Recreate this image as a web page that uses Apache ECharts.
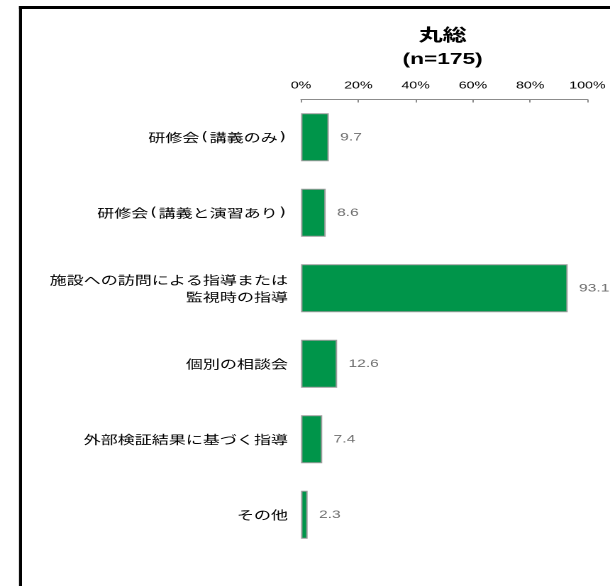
<!DOCTYPE html>
<html>
<head>
<meta charset="utf-8">
<title>丸総</title>
<script src="https://cdn.jsdelivr.net/npm/echarts@6/dist/echarts.min.js"></script>
<style>
  html, body { margin: 0; padding: 0; background: #fff; }
  #frame { width: 610px; height: 586px; overflow: hidden; position: relative; }
  /* chart is laid out narrower and widened horizontally, giving the wide-set lettering */
  #chart { width: 430px; height: 586px; transform: scaleX(1.4186); transform-origin: 0 0; }
</style>
</head>
<body>
<div id="frame"><div id="chart"></div></div>
<script>
// 指導方法別の割合（％）
const titleMain = '丸総';
const titleSub = '(n=175)';
const categories = [
  '研修会(講義のみ)',
  '研修会(講義と演習あり)',
  '施設への訪問による指導または\n監視時の指導',
  '個別の相談会',
  '外部検証結果に基づく指導',
  'その他'
];
const values = [9.7, 8.6, 93.1, 12.6, 7.4, 2.3];
const axisMin = 0;
const axisMax = 100;
const axisStep = 20;

const CJK = '"Noto Sans CJK JP", "Noto Sans", sans-serif';
const LATIN = '"Liberation Sans", Arial, sans-serif';

const chart = echarts.init(document.getElementById('chart'), null, { renderer: 'canvas', devicePixelRatio: 2 });

// parentheses in category names are set in a fixed-pitch face so they sit half-width
const wrapParens = (s) => s.replace(/\(/g, '{p|(}').replace(/\)/g, '{p|)}');

chart.setOption({
  animation: false,
  backgroundColor: '#ffffff',
  title: {
    text: '{a|' + titleMain + '}\n{b|' + titleSub + '}',
    left: 312,
    top: 22,
    padding: 0,
    textAlign: 'center',
    textStyle: {
      rich: {
        a: { fontFamily: CJK, fontSize: 17, fontWeight: 'bold', color: '#000', lineHeight: 25, align: 'center' },
        b: { fontFamily: LATIN, fontSize: 16, fontWeight: 'bold', color: '#000', lineHeight: 25, align: 'center' }
      }
    }
  },
  graphic: [
    { type: 'rect', shape: { x: 13.4, y: 6, width: 500, height: 3 }, style: { fill: '#000' }, silent: true },
    { type: 'rect', shape: { x: 13.4, y: 6, width: 2.1, height: 600 }, style: { fill: '#000' }, silent: true }
  ],
  grid: { left: 212.2, right: 15.9, top: 99.5, height: 453, containLabel: false },
  xAxis: {
    type: 'value',
    position: 'top',
    min: axisMin,
    max: axisMax,
    interval: axisStep,
    splitLine: { show: false },
    axisLine: { show: true, lineStyle: { color: '#8c8c8c', width: 1 } },
    axisTick: { show: true, inside: true, length: 3, lineStyle: { color: '#8c8c8c' } },
    axisLabel: {
      formatter: '{value}%',
      fontFamily: LATIN,
      fontSize: 10,
      color: '#000',
      margin: 9
    }
  },
  yAxis: {
    type: 'category',
    inverse: true,
    data: categories,
    axisLine: { show: false },
    axisTick: { show: false },
    axisLabel: {
      fontFamily: CJK,
      fontSize: 12,
      color: '#000',
      margin: 9.2,
      align: 'right',
      lineHeight: 17,
      formatter: (v) => wrapParens(v),
      rich: {
        p: { fontFamily: '"DejaVu Sans Mono", monospace', fontSize: 12, color: '#000', lineHeight: 17 }
      }
    }
  },
  series: [{
    type: 'bar',
    data: values,
    barWidth: 48,
    itemStyle: { color: '#00954a', borderColor: '#9c9c9c', borderWidth: 1 },
    label: {
      show: true,
      position: 'right',
      distance: 8,
      fontFamily: LATIN,
      fontSize: 11,
      color: '#6e6e6e',
      formatter: (p) => p.value.toFixed(1)
    }
  }]
});
</script>
</body>
</html>
